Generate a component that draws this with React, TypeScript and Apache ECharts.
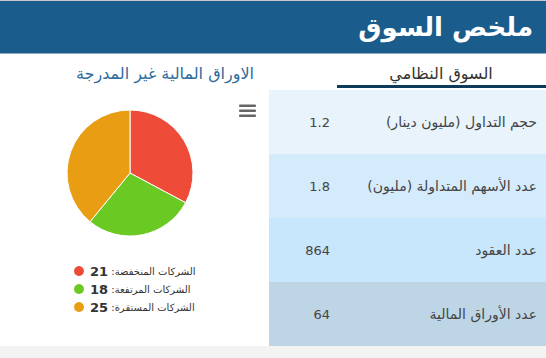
import React, { useEffect, useRef } from "react";
import * as echarts from "echarts";

const headerTitle = "ملخص السوق";
const leftTitle = "الاوراق المالية غير المدرجة";
const tabTitle = "السوق النظامي";

const pieNames = ["الشركات المنخفضة", "الشركات المرتفعة", "الشركات المستقرة"];
const pieValues = [21, 18, 25];
const pieColors = ["#EE4C39", "#6BC923", "#E89D13"];

const rowLabels = [
  "حجم التداول (مليون دينار)",
  "عدد الأسهم المتداولة (مليون)",
  "عدد العقود",
  "عدد الأوراق المالية",
];
const rowValues = ["1.2", "1.8", "864", "64"];
const rowColors = ["#E8F3FB", "#D4EBFC", "#C8E6FC", "#BED5E5"];

const RLM = "\u200F";
const FONT = "'DejaVu Sans', 'Noto Sans', sans-serif";

export default function App() {
  const ref = useRef<HTMLDivElement>(null);

  useEffect(() => {
    if (!ref.current) return;
    const chart = echarts.init(ref.current, undefined, { renderer: "svg" });

    const rowTop = 90;
    const rowH = 64;
    const graphics: any[] = [
      { type: "rect", shape: { x: 0, y: 0, width: 546, height: 1 }, style: { fill: "#C9C9C9" }, silent: true },
      { type: "rect", shape: { x: 0, y: 1, width: 546, height: 52.5 }, style: { fill: "#1A5C8B" }, silent: true },
      {
        type: "text",
        x: 533,
        y: 27,
        style: {
          text: headerTitle,
          fill: "#FFFFFF",
          font: `bold 26px ${FONT}`,
          align: "right",
          verticalAlign: "middle",
        },
      },
      {
        type: "text",
        x: 165,
        y: 73,
        style: {
          text: leftTitle,
          fill: "#2D6C9C",
          font: `16px ${FONT}`,
          align: "center",
          verticalAlign: "middle",
        },
      },
      {
        type: "text",
        x: 441,
        y: 73,
        style: {
          text: tabTitle,
          fill: "#333333",
          font: `16px ${FONT}`,
          align: "center",
          verticalAlign: "middle",
        },
      },
      { type: "rect", shape: { x: 337, y: 85, width: 209, height: 3 }, style: { fill: "#0E3B5C" }, silent: true },
    ];

    rowLabels.forEach((label, i) => {
      const y0 = rowTop + i * rowH;
      graphics.push({
        type: "rect",
        shape: { x: 269, y: y0, width: 277, height: rowH },
        style: { fill: rowColors[i] },
        silent: true,
      });
      graphics.push({
        type: "text",
        x: 537,
        y: y0 + rowH / 2,
        style: {
          text: label + RLM,
          fill: "#444444",
          font: `14px ${FONT}`,
          align: "right",
          verticalAlign: "middle",
        },
      });
      graphics.push({
        type: "text",
        x: 330,
        y: y0 + rowH / 2,
        style: {
          text: rowValues[i],
          fill: "#444444",
          font: `13px ${FONT}`,
          align: "right",
          verticalAlign: "middle",
        },
      });
    });

    graphics.push({ type: "rect", shape: { x: 0, y: 346, width: 546, height: 12 }, style: { fill: "#F3F3F3" }, silent: true });

    [104.5, 109.5, 114.5].forEach((y) => {
      graphics.push({
        type: "rect",
        shape: { x: 239, y, width: 17, height: 2.6, r: 1 },
        style: { fill: "#666666" },
        silent: true,
      });
    });

    const valueByName: Record<string, number> = {};
    pieNames.forEach((n, i) => (valueByName[n] = pieValues[i]));

    chart.setOption({
      animation: false,
      backgroundColor: "#FFFFFF",
      graphic: graphics,
      legend: {
        orient: "vertical",
        left: 72,
        top: 264,
        padding: 0,
        itemWidth: 12,
        itemHeight: 12,
        itemGap: 4,
        icon: "circle",
        selectedMode: false,
        data: pieNames,
        formatter: (name: string) => `{n|${valueByName[name]}} {l|${name}:${RLM}}`,
        textStyle: {
          color: "#333333",
          fontFamily: FONT,
          fontSize: 10,
          lineHeight: 12,
          rich: {
            n: { fontSize: 13, fontWeight: "bold", color: "#333333", lineHeight: 12, fontFamily: FONT },
            l: { fontSize: 10, color: "#333333", lineHeight: 12, fontFamily: FONT },
          },
        },
      },
      series: [
        {
          type: "pie",
          center: [130, 173],
          radius: 63,
          startAngle: 90,
          clockwise: true,
          label: { show: false },
          labelLine: { show: false },
          emphasis: { disabled: true },
          itemStyle: { borderColor: "#FFFFFF", borderWidth: 1 },
          data: pieNames.map((n, i) => ({
            name: n,
            value: pieValues[i],
            itemStyle: { color: pieColors[i] },
          })),
        },
      ],
    });

    return () => chart.dispose();
  }, []);

  return (
    <div
      ref={ref}
      style={{ position: "fixed", left: 0, top: 0, width: 546, height: 358 }}
    />
  );
}
